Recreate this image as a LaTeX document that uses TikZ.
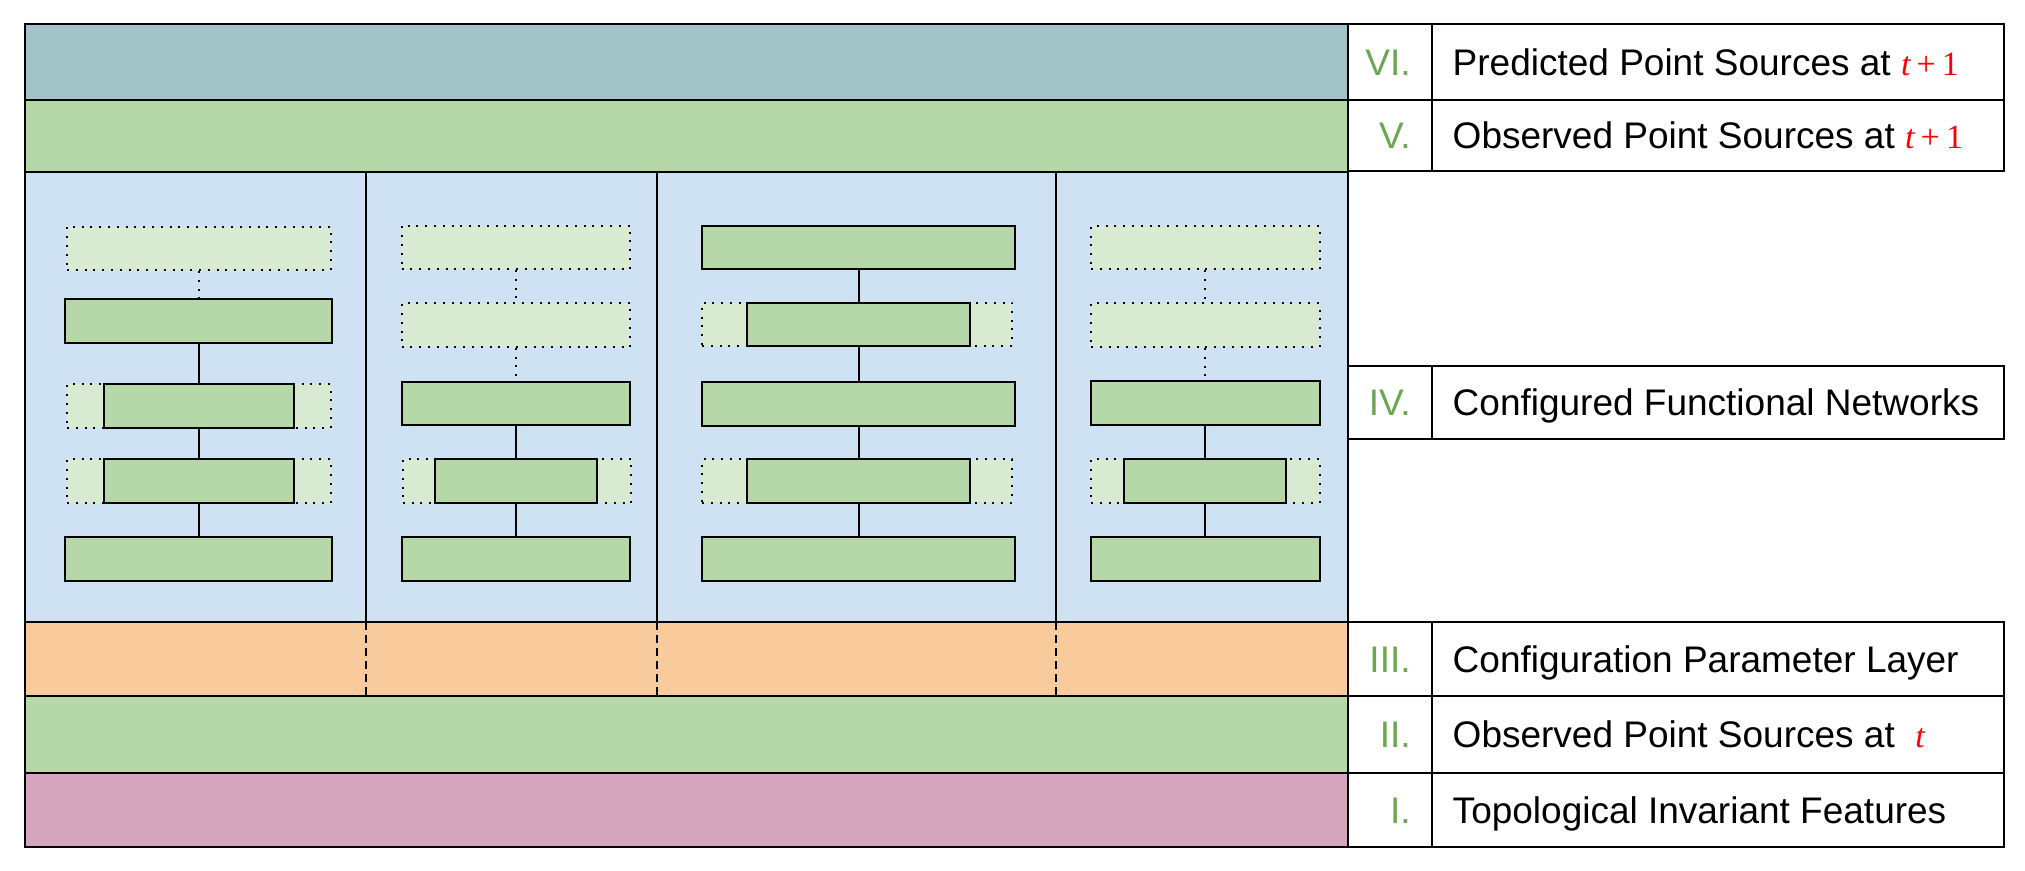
\documentclass[tikz,border=0pt]{standalone}
\usepackage{fontspec}
\setmainfont{Liberation Sans}
\newfontfamily\serifface{Liberation Serif}
\definecolor{cVI}{HTML}{A2C4C9}
\definecolor{cV}{HTML}{B6D7A8}
\definecolor{cIV}{HTML}{CFE2F3}
\definecolor{cIII}{HTML}{F9CB9C}
\definecolor{cII}{HTML}{B6D7A8}
\definecolor{cI}{HTML}{D5A6BD}
\definecolor{boxgreen}{HTML}{B6D7A8}
\definecolor{ghostgreen}{HTML}{D9EAD3}
\definecolor{numgreen}{HTML}{6AA84F}
\newcommand{\redt}[1]{\textcolor{red}{\fontsize{17}{20}\selectfont\serifface #1}}
\begin{document}
\begin{tikzpicture}[x=0.5pt,y=-0.5pt,
  band/.style={draw=black, line width=1pt},
  fullbox/.style={draw=black, fill=boxgreen, rectangle, inner sep=0pt, minimum height=21.75pt, line width=1pt},
  ghostbox/.style={draw=black, fill=ghostgreen, rectangle, inner sep=0pt, minimum height=21.75pt, line width=1pt, dash pattern=on 1pt off 3.4pt},
  link/.style={draw=black, line width=1pt},
  ghostlink/.style={draw=black, line width=1pt, dash pattern=on 1pt off 3.4pt},
  cutline/.style={draw=black, line width=1pt, dash pattern=on 4pt off 2.5pt},
  cell/.style={draw=black, fill=white, line width=1pt},
  lbl/.style={anchor=base west, inner sep=0pt, font=\fontsize{18.5}{22}\selectfont},
  num/.style={anchor=base east, inner sep=0pt, text=numgreen, font=\fontsize{18.5}{22}\selectfont}]
\useasboundingbox (0,0) rectangle (2025,871);

% layers
\path[band, fill=cVI] (24.5,24.5) rectangle (1347.5,100);
\path[band, fill=cV] (24.5,100) rectangle (1347.5,172);
\path[band, fill=cIV] (24.5,172) rectangle (365.6,622);
\path[band, fill=cIV] (365.6,172) rectangle (657.1,622);
\path[band, fill=cIV] (657.1,172) rectangle (1055.6,622);
\path[band, fill=cIV] (1055.6,172) rectangle (1347.5,622);
\path[band, fill=cIII] (24.5,622) rectangle (1347.5,696);
\path[cutline] (365.6,622) -- (365.6,696);
\path[cutline] (657.1,622) -- (657.1,696);
\path[cutline] (1055.6,622) -- (1055.6,696);
\path[band, fill=cII] (24.5,696) rectangle (1347.5,773);
\path[band, fill=cI] (24.5,773) rectangle (1347.5,847.3);

% label table
\foreach \a/\b in {24.5/100, 100/171.5, 365.7/439.3, 622/696, 696/773, 773/847.3} {
  \path[cell] (1347.5,\a) rectangle (1431.7,\b);
  \path[cell] (1431.7,\a) rectangle (2003.7,\b);
}
\node[num] (nVI) at (1411,75.25) {VI.};
\node[num] (nV) at (1411,148.75) {V.};
\node[num] (nIV) at (1411,415.5) {IV.};
\node[num] (nIII) at (1411,672) {III.};
\node[num] (nII) at (1411,747.5) {II.};
\node[num] (nI) at (1411,823.15) {I.};
\node[lbl] (tVI) at (1452.3,75.25) {Predicted Point Sources at \redt{\itshape t\hspace{0.18em}\upshape+\hspace{0.18em}1}};
\node[lbl] (tV) at (1452.3,148.75) {Observed Point Sources at \redt{\itshape t\hspace{0.18em}\upshape+\hspace{0.18em}1}};
\node[lbl] (tIV) at (1452.3,415.5) {Configured Functional Networks};
\node[lbl] (tIII) at (1452.3,672) {Configuration Parameter Layer};
\node[lbl] (tII) at (1452.3,747.5) {Observed Point Sources at\ \ \redt{\itshape t}};
\node[lbl] (tI) at (1452.3,823.15) {Topological Invariant Features};

% panel 1
\node[ghostbox, minimum width=131.9pt] (p1a) at (198.8,248.3) {};
\node[fullbox, minimum width=133.5pt] (p1b) at (198.8,321) {};
\node[ghostbox, minimum width=131.9pt] (p1cg) at (198.8,406.2) {};
\node[fullbox, minimum width=94.7pt] (p1c) at (198.8,406.2) {};
\node[ghostbox, minimum width=131.9pt] (p1dg) at (198.8,481) {};
\node[fullbox, minimum width=94.7pt] (p1d) at (198.8,481) {};
\node[fullbox, minimum width=133.5pt] (p1e) at (198.8,559) {};
\path[ghostlink] (p1a.south) -- (p1b.north);
\path[link] (p1b.south) -- (p1c.north);
\path[link] (p1c.south) -- (p1d.north);
\path[link] (p1d.south) -- (p1e.north);

% panel 2
\node[ghostbox, minimum width=114.3pt] (p2a) at (515.9,247.3) {};
\node[ghostbox, minimum width=114.3pt] (p2b) at (515.9,325) {};
\node[fullbox, minimum width=114.3pt] (p2c) at (515.9,403.3) {};
\node[ghostbox, minimum width=114.3pt] (p2dg) at (517,481) {};
\node[fullbox, minimum width=80.8pt] (p2d) at (515.9,481) {};
\node[fullbox, minimum width=114.3pt] (p2e) at (515.9,559) {};
\path[ghostlink] (p2a.south) -- (p2b.north);
\path[ghostlink] (p2b.south) -- (p2c.north);
\path[link] (p2c.south) -- (p2d.north);
\path[link] (p2d.south) -- (p2e.north);

% panel 3
\node[fullbox, minimum width=156.65pt] (p3a) at (858.7,247.7) {};
\node[ghostbox, minimum width=155pt] (p3bg) at (857,324.3) {};
\node[fullbox, minimum width=111.25pt] (p3b) at (858.7,324.3) {};
\node[fullbox, minimum width=156.65pt] (p3c) at (858.7,404) {};
\node[ghostbox, minimum width=155pt] (p3dg) at (857,481) {};
\node[fullbox, minimum width=111.25pt] (p3d) at (858.7,481) {};
\node[fullbox, minimum width=156.65pt] (p3e) at (858.7,559) {};
\path[link] (p3a.south) -- (p3b.north);
\path[link] (p3b.south) -- (p3c.north);
\path[link] (p3c.south) -- (p3d.north);
\path[link] (p3d.south) -- (p3e.north);

% panel 4
\node[ghostbox, minimum width=114.3pt] (p4a) at (1205.2,247.7) {};
\node[ghostbox, minimum width=114.3pt] (p4b) at (1205.2,325.2) {};
\node[fullbox, minimum width=114.3pt] (p4c) at (1205.2,403.2) {};
\node[ghostbox, minimum width=114.3pt] (p4dg) at (1205.2,481) {};
\node[fullbox, minimum width=80.85pt] (p4d) at (1205.2,481) {};
\node[fullbox, minimum width=114.3pt] (p4e) at (1205.2,559) {};
\path[ghostlink] (p4a.south) -- (p4b.north);
\path[ghostlink] (p4b.south) -- (p4c.north);
\path[link] (p4c.south) -- (p4d.north);
\path[link] (p4d.south) -- (p4e.north);
\end{tikzpicture}
\end{document}
